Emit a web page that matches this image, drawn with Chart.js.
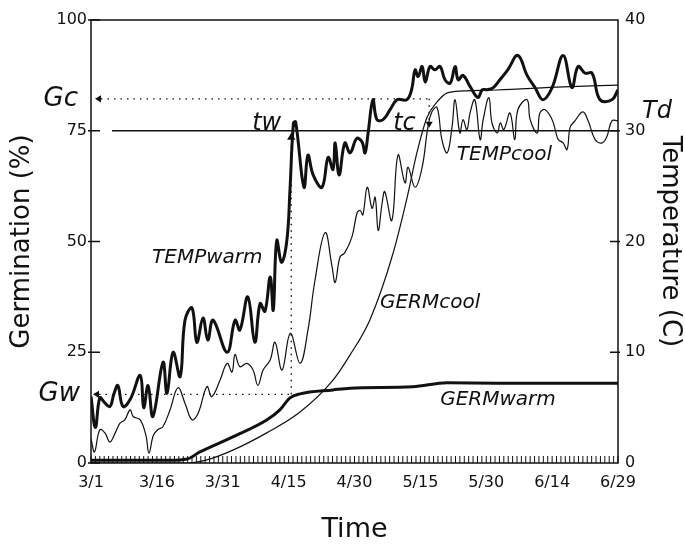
<!DOCTYPE html>
<html>
<head>
<meta charset="utf-8">
<script src="https://cdn.jsdelivr.net/npm/chart.js@4.4.1/dist/chart.umd.min.js"></script>
<style>
  html, body { margin: 0; padding: 0; background: #fff; }
  #chart { display: block; }
</style>
</head>
<body>
<canvas id="chart" width="685" height="546"></canvas>
<script>
// date labels, every 15 days starting 3/1 (day 0)
const tickLabels = ['3/1', '3/16', '3/31', '4/15', '4/30', '5/15', '5/30', '6/14', '6/29'];

// TEMPwarm (C)
const warmTempDays = [0, 1, 2, 3, 4.3, 5.2, 6.1, 7.3, 9, 11.2, 12, 13, 14.1, 16.4, 17.3, 18.7, 20.3, 21.4, 23, 24.1, 25.5, 26.6, 27.8, 31, 32.8, 33.9, 35.7, 37.3, 38.5, 39.6, 40.8, 41.5, 42.3, 43.4, 44.6, 45.3, 46.1, 46.6, 48.5, 49.4, 50.6, 52.6, 54, 55.1, 55.6, 56.5, 57.8, 59, 60.5, 61.7, 62.4, 63.1, 64.2, 65.1, 66.5, 68.1, 69.7, 71.9, 73, 73.8, 74.5, 75.4, 76.1, 77.2, 78.3, 79.5, 80.6, 81.8, 82.9, 83.6, 84.7, 86.3, 88.1, 89.1, 90.2, 91.6, 93.1, 94.9, 97.2, 99.3, 101.1, 102.9, 105, 107.5, 109.5, 110.9, 112.5, 114.1, 115.9, 118.6, 120];
const warmTemp = [6.0, 3.2, 5.9, 5.5, 5.1, 6.2, 7.0, 5.1, 5.8, 7.9, 5.0, 7.0, 4.2, 9.1, 6.3, 10.0, 7.8, 12.9, 14.0, 10.9, 13.1, 11.1, 12.9, 10.0, 12.9, 12.0, 15.0, 10.9, 14.4, 13.7, 16.8, 13.8, 20.1, 18.1, 20.1, 24.6, 30.7, 30.8, 24.9, 27.8, 26.0, 24.9, 27.6, 26.5, 28.9, 26.0, 28.9, 28.0, 29.3, 29.0, 28.0, 29.8, 32.8, 31.0, 31.0, 31.9, 32.8, 32.8, 33.7, 35.5, 34.9, 35.8, 34.4, 35.8, 35.5, 35.8, 34.6, 34.3, 35.8, 34.6, 35.0, 34.0, 33.0, 33.7, 33.7, 33.9, 34.6, 35.5, 36.8, 35.0, 33.9, 32.8, 33.9, 36.8, 33.9, 35.8, 35.2, 35.2, 32.8, 32.8, 33.7];

// TEMPcool (C), thin wiggly line
const coolTempDays = [0, 0.8, 2, 3.2, 4.3, 5.5, 6.6, 7.7, 8.9, 9.6, 11.2, 12.5, 13.2, 14.2, 15.2, 16.4, 18, 19.8, 21.4, 23, 24.4, 26.4, 27.5, 29.4, 31, 32.1, 32.8, 33.9, 35.5, 36.9, 38, 39.2, 40.8, 41.9, 43.5, 45.4, 47.6, 49.4, 51, 53.3, 54.9, 55.6, 56.7, 57.8, 59.4, 60.6, 61.3, 61.9, 62.9, 64, 64.7, 65.4, 66.3, 66.9, 68.5, 69.9, 71.5, 72.2, 73.8, 75.4, 76.7, 77.6, 78.8, 79.9, 81.1, 82.2, 82.9, 84, 84.7, 85.6, 86.3, 87.4, 88.6, 89.3, 90.6, 91.3, 92.5, 93.2, 94, 95.4, 96.5, 97.2, 99.3, 100, 101.6, 102.2, 103.4, 105, 105.7, 106.4, 107.5, 108.4, 109.1, 110.2, 112, 113.2, 114.8, 116.4, 117.5, 118.6, 120];
const coolTemp = [2.2, 1.0, 3.0, 2.7, 1.9, 2.7, 3.6, 3.9, 4.8, 4.2, 3.9, 2.5, 0.9, 2.5, 3.0, 3.3, 4.8, 6.8, 5.4, 3.9, 4.5, 6.9, 6.0, 7.5, 9.0, 8.2, 9.8, 8.7, 9.0, 8.4, 7.0, 8.4, 9.3, 10.9, 8.4, 11.7, 9.0, 12.0, 16.5, 20.8, 17.7, 16.3, 18.6, 19.0, 20.4, 22.6, 22.8, 22.4, 24.9, 23.0, 24.0, 21.0, 23.5, 24.5, 21.9, 27.8, 25.3, 26.7, 24.9, 26.7, 30.3, 31.7, 32.1, 29.2, 28.0, 30.3, 32.8, 29.8, 31.0, 30.1, 31.6, 32.8, 29.2, 31.0, 33.0, 30.7, 29.8, 30.7, 30.1, 31.6, 29.2, 31.9, 32.8, 31.0, 29.8, 31.6, 31.9, 31.0, 30.1, 29.2, 28.9, 28.3, 30.3, 30.9, 31.7, 30.9, 29.2, 28.9, 29.5, 30.9, 30.9];

// GERMcool (%), thin sigmoid
const coolGermDays = [0, 22, 26.4, 32.3, 40, 47.6, 55.1, 59, 63.5, 68.8, 72, 74.2, 76.5, 78.8, 81, 84.7, 92.4, 107.5, 120];
const coolGerm = [0, 0, 0.7, 2.9, 6.8, 11.5, 18.7, 24.4, 32.3, 47.4, 60, 70, 78, 81.5, 83.5, 84, 84.2, 84.9, 85.3];

// GERMwarm (%), thick curve levelling off
const warmGermDays = [0, 18, 21.9, 24.8, 32.3, 40, 43, 45.3, 47.6, 55.1, 59, 73.3, 81, 92.4, 120];
const warmGerm = [0.6, 0.6, 0.9, 2.5, 5.9, 9.7, 12, 14.7, 15.6, 16.5, 16.9, 17.2, 18.1, 18.0, 18.0];

// marked levels
const gcLevel = 82.2;   // Gc (%)
const gwLevel = 15.5;   // Gw (%)
const tdLevel = 30;     // Td (C)
const twDay = 45.6;
const tcDay = 77;

const ink = '#111';
const ital = 'italic 24px "DejaVu Sans"';

function pts(xs, ys) {
    return xs.map(function(d, i) { return { x: d, y: ys[i] }; });
}

function tri(ctx, x, y, dir, s) {
    ctx.beginPath();
    if (dir === 'left') {
        ctx.moveTo(x, y); ctx.lineTo(x + s, y - s * 0.6); ctx.lineTo(x + s, y + s * 0.6);
    } else if (dir === 'up') {
        ctx.moveTo(x, y); ctx.lineTo(x - s * 0.6, y + s); ctx.lineTo(x + s * 0.6, y + s);
    } else {
        ctx.moveTo(x, y); ctx.lineTo(x - s * 0.6, y - s); ctx.lineTo(x + s * 0.6, y - s);
    }
    ctx.closePath();
    ctx.fill();
}

// frame, inward ticks, day hatch, reference lines and labels
const annotate = {
    id: 'annotate',
    afterDatasetsDraw(chart) {
        const ctx = chart.ctx;
        const a = chart.chartArea;
        const xs = chart.scales.x, ys = chart.scales.y, ts = chart.scales.y2;
        ctx.save();
        ctx.strokeStyle = ink;
        ctx.fillStyle = ink;

        ctx.lineWidth = 1.5;
        ctx.strokeRect(a.left, a.top, a.right - a.left, a.bottom - a.top);

        // inward ticks
        ctx.lineWidth = 1.3;
        ctx.beginPath();
        [0, 25, 50, 75, 100].forEach(function(v) {
            const y = ys.getPixelForValue(v);
            ctx.moveTo(a.left - 3, y); ctx.lineTo(a.left + 9, y);
        });
        [10, 20, 30].forEach(function(v) {
            const y = ts.getPixelForValue(v);
            ctx.moveTo(a.right - 8, y); ctx.lineTo(a.right + 2, y);
        });
        ctx.stroke();

        // daily hatch along the time axis
        ctx.lineWidth = 1;
        ctx.beginPath();
        for (let d = 0; d <= 120; d++) {
            const x = xs.getPixelForValue(d);
            ctx.moveTo(x, a.bottom); ctx.lineTo(x, a.bottom - 7);
        }
        ctx.stroke();

        // Td line
        const yTd = ts.getPixelForValue(tdLevel);
        ctx.lineWidth = 1.5;
        ctx.beginPath();
        ctx.moveTo(xs.getPixelForValue(4.8), yTd);
        ctx.lineTo(a.right, yTd);
        ctx.stroke();

        // dotted guides
        const yGc = ys.getPixelForValue(gcLevel);
        const yGw = ys.getPixelForValue(gwLevel);
        const xTw = xs.getPixelForValue(twDay);
        const xTc = xs.getPixelForValue(tcDay);
        ctx.lineWidth = 1.4;
        ctx.setLineDash([1.5, 5]);
        ctx.beginPath();
        ctx.moveTo(a.left + 10, yGc); ctx.lineTo(xTc, yGc);
        ctx.moveTo(a.left + 8, yGw); ctx.lineTo(xTw, yGw);
        ctx.moveTo(xTw, yGw); ctx.lineTo(xTw, yTd + 10);
        ctx.moveTo(xTc, yGc); ctx.lineTo(xTc, yTd - 8);
        ctx.stroke();
        ctx.setLineDash([]);
        tri(ctx, a.left + 4, yGc, 'left', 6);
        tri(ctx, a.left + 2, yGw, 'left', 6);
        tri(ctx, xTw, yTd + 2, 'up', 7);
        tri(ctx, xTc, yTd - 3, 'down', 6);

        // labels
        ctx.font = 'italic 26px "DejaVu Sans"';
        ctx.textAlign = 'right';
        ctx.textBaseline = 'middle';
        ctx.fillText('Gc', a.left - 13, yGc);
        ctx.fillText('Gw', a.left - 11, yGw);
        ctx.textAlign = 'left';
        ctx.font = 'italic 24px "DejaVu Sans"';
        ctx.fillText('Td', a.right + 24, yTd - 19);
        ctx.textBaseline = 'alphabetic';
        ctx.fillText('tw', xs.getPixelForValue(36.7), yTd - 1);
        ctx.fillText('tc', xs.getPixelForValue(68.8), yTd - 1);

        ctx.font = 'italic 20px "DejaVu Sans"';
        ctx.textBaseline = 'middle';
        ctx.fillText('TEMPwarm', xs.getPixelForValue(13.9), ts.getPixelForValue(18.5));
        ctx.fillText('TEMPcool', xs.getPixelForValue(83.3), ts.getPixelForValue(27.8));
        ctx.fillText('GERMcool', xs.getPixelForValue(65.8), ys.getPixelForValue(36.1));
        ctx.fillText('GERMwarm', xs.getPixelForValue(79.5), ys.getPixelForValue(14.2));
        ctx.restore();
    }
};

const tickFont = { family: '"DejaVu Sans"', size: 16 };
const titleFont = { family: '"DejaVu Sans"', size: 26 };

new Chart(document.getElementById('chart'), {
    type: 'line',
    data: {
        datasets: [
            { label: 'TEMPwarm', data: pts(warmTempDays, warmTemp), yAxisID: 'y2', borderColor: ink, borderWidth: 3, tension: 0.4 },
            { label: 'TEMPcool', data: pts(coolTempDays, coolTemp), yAxisID: 'y2', borderColor: ink, borderWidth: 1.2, tension: 0.4 },
            { label: 'GERMcool', data: pts(coolGermDays, coolGerm), yAxisID: 'y', borderColor: ink, borderWidth: 1.2, cubicInterpolationMode: 'monotone' },
            { label: 'GERMwarm', data: pts(warmGermDays, warmGerm), yAxisID: 'y', borderColor: ink, borderWidth: 3, cubicInterpolationMode: 'monotone' }
        ]
    },
    options: {
        responsive: false,
        animation: false,
        devicePixelRatio: 1,
        layout: { padding: { top: 20, left: 0, right: 0, bottom: 0 } },
        elements: { point: { radius: 0 } },
        plugins: { legend: { display: false }, tooltip: { enabled: false } },
        scales: {
            x: {
                type: 'linear', min: 0, max: 120,
                grid: { display: false, drawTicks: false },
                border: { display: false },
                ticks: {
                    stepSize: 15, autoSkip: false, maxRotation: 0, padding: 10,
                    color: ink, font: tickFont,
                    callback: function(v) { return tickLabels[v / 15]; }
                },
                title: { display: true, text: 'Time', color: ink, font: { family: '"DejaVu Sans"', size: 27 }, padding: { top: 0, bottom: 0 } },
                afterFit: function(s) { s.height = 83; }
            },
            y: {
                position: 'left', min: 0, max: 100,
                grid: { display: false, drawTicks: false },
                border: { display: false },
                ticks: { stepSize: 25, padding: 4, color: ink, font: tickFont },
                title: { display: true, text: 'Germination (%)', color: ink, font: titleFont, padding: { top: 7, bottom: 0 } },
                afterFit: function(s) { s.width = 91; }
            },
            y2: {
                position: 'right', min: 0, max: 40,
                grid: { display: false, drawTicks: false },
                border: { display: false },
                ticks: { stepSize: 10, padding: 7, color: ink, font: tickFont },
                title: { display: true, text: 'Temperature (C)', color: ink, font: titleFont, padding: { top: 0, bottom: 1 } },
                afterFit: function(s) { s.width = 67; }
            }
        }
    },
    plugins: [annotate]
});
</script>
</body>
</html>
